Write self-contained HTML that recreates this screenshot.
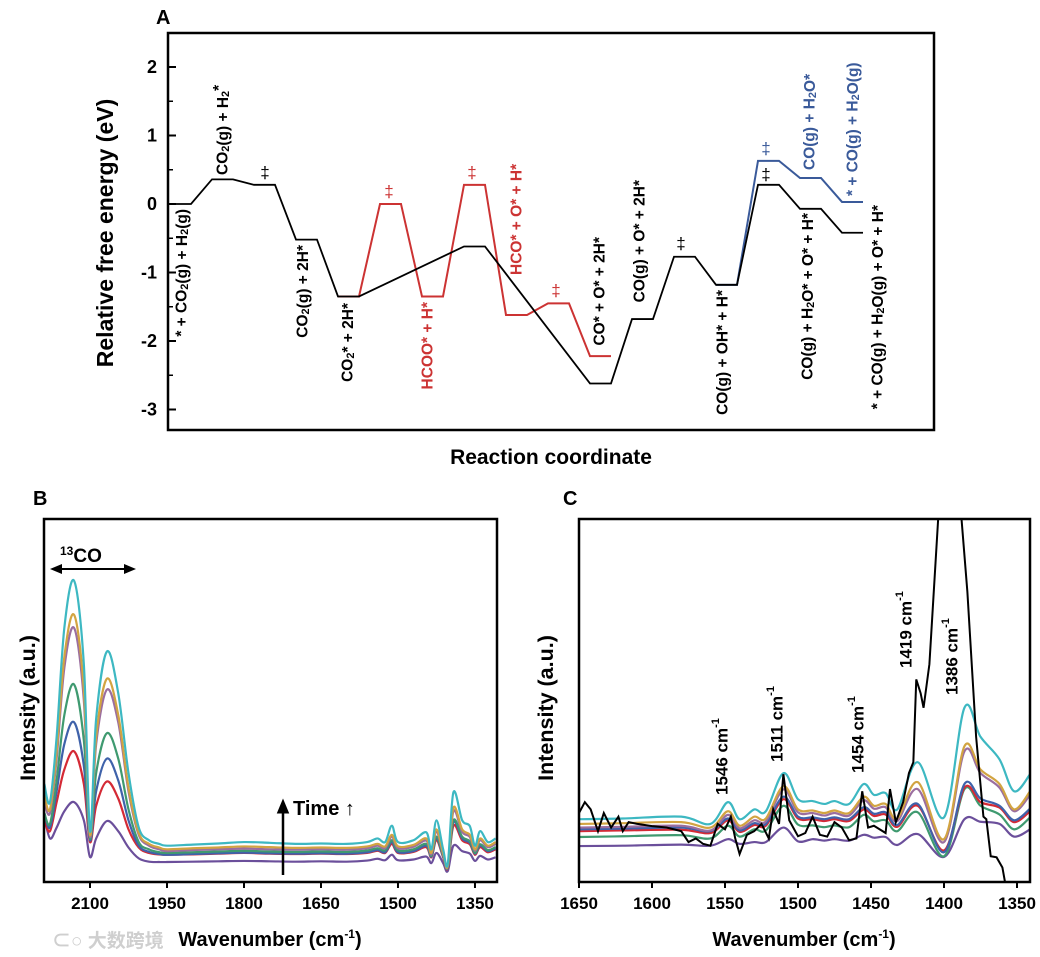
<!DOCTYPE html>
<html><head><meta charset="utf-8"><style>
html,body{margin:0;padding:0;background:#fff;}
svg{display:block;font-family:"Liberation Sans","Noto Sans CJK SC",sans-serif;font-weight:bold;}
</style></head><body>
<svg id="fig" width="1040" height="957" viewBox="0 0 1040 957" xmlns="http://www.w3.org/2000/svg">
<g id="panelA">
<text x="156" y="24" font-size="20">A</text>
<rect x="168" y="33" width="766" height="397" fill="none" stroke="#000" stroke-width="2.5"/>
<text transform="translate(113,233) rotate(-90)" text-anchor="middle" font-size="23">Relative free energy (eV)</text>
<text x="551" y="464" text-anchor="middle" font-size="21">Reaction coordinate</text>
<g id="axA"></g>
<g id="pathsA"></g>
<g font-size="15.5">
<text transform="translate(182,209) rotate(-90)" text-anchor="end" dominant-baseline="central">* + CO<tspan font-size="11" dy="3">2</tspan><tspan dy="-3">(g) + H</tspan><tspan font-size="11" dy="3">2</tspan><tspan dy="-3">(g)</tspan></text>
<text transform="translate(223,175) rotate(-90)" dominant-baseline="central">CO<tspan font-size="11" dy="3">2</tspan><tspan dy="-3">(g) + H</tspan><tspan font-size="11" dy="3">2</tspan><tspan dy="-7">*</tspan></text>
<text transform="translate(303,245) rotate(-90)" text-anchor="end" dominant-baseline="central">CO<tspan font-size="11" dy="3">2</tspan><tspan dy="-3">(g) + 2H*</tspan></text>
<text transform="translate(348,303) rotate(-90)" text-anchor="end" dominant-baseline="central">CO<tspan font-size="11" dy="3">2</tspan><tspan dy="-3">* + 2H*</tspan></text>
<text transform="translate(428,302) rotate(-90)" text-anchor="end" dominant-baseline="central" fill="#cc3333">HCOO* + H*</text>
<text transform="translate(517,275) rotate(-90)" dominant-baseline="central" fill="#cc3333">HCO* + O* + H*</text>
<text transform="translate(600,237) rotate(-90)" text-anchor="end" dominant-baseline="central">CO* + O* + 2H*</text>
<text transform="translate(640,180) rotate(-90)" text-anchor="end" dominant-baseline="central">CO(g) + O* + 2H*</text>
<text transform="translate(723,290) rotate(-90)" text-anchor="end" dominant-baseline="central">CO(g) + OH* + H*</text>
<text transform="translate(810,170) rotate(-90)" dominant-baseline="central" fill="#3a5a9a">CO(g) + H<tspan font-size="11" dy="3">2</tspan><tspan dy="-3">O*</tspan></text>
<text transform="translate(853,196) rotate(-90)" dominant-baseline="central" fill="#3a5a9a">* + CO(g) + H<tspan font-size="11" dy="3">2</tspan><tspan dy="-3">O(g)</tspan></text>
<text transform="translate(808,213) rotate(-90)" text-anchor="end" dominant-baseline="central">CO(g) + H<tspan font-size="11" dy="3">2</tspan><tspan dy="-3">O* + O* + H*</tspan></text>
<text transform="translate(878,205) rotate(-90)" text-anchor="end" dominant-baseline="central">* + CO(g) + H<tspan font-size="11" dy="3">2</tspan><tspan dy="-3">O(g) + O* + H*</tspan></text>
</g>
<g font-size="17" font-weight="normal" text-anchor="middle">
<text x="265" y="178">‡</text>
<text x="389" y="197" fill="#cc3333">‡</text>
<text x="472" y="178" fill="#cc3333">‡</text>
<text x="556" y="296" fill="#cc3333">‡</text>
<text x="681" y="249">‡</text>
<text x="766" y="154" fill="#3a5a9a">‡</text>
<text x="766" y="180">‡</text>
</g>
</g>

<g id="panelB">
<text x="33" y="505" font-size="20">B</text>
<defs><clipPath id="clipB"><rect x="44" y="519" width="453" height="363"/></clipPath>
<clipPath id="clipC"><rect x="579" y="519" width="451" height="363"/></clipPath>
<marker id="ah" markerWidth="6" markerHeight="6" refX="3" refY="3" orient="auto-start-reverse" markerUnits="strokeWidth"><path d="M0,0.5 L6,3 L0,5.5 z" fill="#000"/></marker></defs>
<g id="seriesB" clip-path="url(#clipB)"></g>
<rect x="44" y="519" width="453" height="363" fill="none" stroke="#000" stroke-width="2.5"/>
<g id="axB"></g>
<text transform="translate(35,708) rotate(-90)" text-anchor="middle" font-size="21.5">Intensity (a.u.)</text>
<text x="270" y="946" text-anchor="middle" font-size="20">Wavenumber (cm<tspan font-size="12" dy="-8">-1</tspan><tspan dy="8">)</tspan></text>
<text x="52" y="947" font-size="19" fill="#cfcfcf">⊂○ 大数跨境</text>
<text x="60" y="562" font-size="19"><tspan font-size="12" dy="-7">13</tspan><tspan dy="7">CO</tspan></text>
<line x1="56" y1="569" x2="130" y2="569" stroke="#000" stroke-width="2" marker-start="url(#ah)" marker-end="url(#ah)"/>
<line x1="283" y1="875" x2="283" y2="806" stroke="#000" stroke-width="2.5" marker-end="url(#ah)"/>
<text x="293" y="815" font-size="20">Time <tspan font-weight="normal">↑</tspan></text>
</g>

<g id="panelC">
<text x="563" y="505" font-size="20">C</text>
<g id="seriesC" clip-path="url(#clipC)"></g>
<rect x="579" y="519" width="451" height="363" fill="none" stroke="#000" stroke-width="2.5"/>
<g id="axC"></g>
<text transform="translate(553,708) rotate(-90)" text-anchor="middle" font-size="21.5">Intensity (a.u.)</text>
<text x="804" y="946" text-anchor="middle" font-size="20">Wavenumber (cm<tspan font-size="12" dy="-8">-1</tspan><tspan dy="8">)</tspan></text>
<g font-size="17">
<text transform="translate(722,795) rotate(-90)" dominant-baseline="central">1546 cm<tspan font-size="11" dy="-6">-1</tspan></text>
<text transform="translate(777,762) rotate(-90)" dominant-baseline="central">1511 cm<tspan font-size="11" dy="-6">-1</tspan></text>
<text transform="translate(858,773) rotate(-90)" dominant-baseline="central">1454 cm<tspan font-size="11" dy="-6">-1</tspan></text>
<text transform="translate(906,668) rotate(-90)" dominant-baseline="central">1419 cm<tspan font-size="11" dy="-6">-1</tspan></text>
<text transform="translate(952,695) rotate(-90)" dominant-baseline="central">1386 cm<tspan font-size="11" dy="-6">-1</tspan></text>
</g>
</g>
</svg>
<script>
// ---------- Panel A data ----------
const blackIdx = [0,1,2,3,4,7,10,11,12,13,14,15,16];
const blackE = [0,0.36,0.28,-0.52,-1.35,-0.62,-2.62,-1.68,-0.77,-1.18,0.28,-0.07,-0.42];
const redIdx = [4,5,6,7,8,9,10];
const redE = [-1.35,0.0,-1.35,0.28,-1.62,-1.45,-2.22];
const blueIdx = [13,14,15,16];
const blueE = [-1.18,0.63,0.38,0.03];
const yTicksA = [-3,-2,-1,0,1,2];

// ---------- Panel B data ----------
const wavB = [2189,2178,2165,2150,2131,2112,2100,2088,2067,2045,2025,2005,1985,1965,1950,1900,1850,1800,1750,1700,1650,1600,1560,1540,1525,1512,1500,1470,1445,1435,1425,1412,1403,1392,1375,1360,1350,1340,1325,1310];
const bCyan  =[27,22,40,70,83,60,14,45,63.5,52,30,15,11.5,10.5,10,10.3,10.6,11,10.8,10.5,10.6,10.5,11,12,11,15.5,11,11.5,13.7,9,17,9,5,24.7,17,15.4,10,14,11,12];
const bGold  =[24,20,36,62,73.6,53,13,40,56,46,26,13.5,10.5,9.5,9,9.3,9.5,9.8,9.6,9.4,9.5,9.4,9.8,10.5,9.8,13,9.8,10.2,12,8,14.5,8,4.5,20.5,14.5,13,9,12,10,11];
const bMauve =[22,19,34,59,70,50,12.5,38,53,44,25,13,10,9,8.5,8.8,9,9.2,9,8.9,9,8.9,9.3,10,9.3,12.5,9.3,9.7,11.4,7.6,13.8,7.6,4.3,19.5,13.8,12.4,8.6,11.5,9.6,10.5];
const bGreen =[19,16,28,46,54.4,39,12,30,41,34,20,11,9,8.2,8,8.2,8.4,8.6,8.4,8.3,8.4,8.3,8.7,9.3,8.7,11.5,8.7,9,10.5,7.2,12.5,7.2,4,17,12.5,11.2,8,10.4,8.8,9.6];
const bBlue  =[19,15,25,38,44,32,11.5,25,34,28,17,10,8.3,7.7,7.5,7.7,7.9,8.1,7.9,7.8,7.9,7.8,8.2,8.8,8.2,11,8.2,8.5,10,7,12,7,4,16.5,12,10.8,7.8,10,8.5,9.3];
const bRed   =[17,14,22,31,36,27,11,21,27.7,23,14.5,9.5,8,7.6,7.5,7.6,7.8,8,7.8,7.7,7.8,7.7,8,8.6,8,10.5,8,8.3,9.6,6.8,11.5,6.8,3.8,15.5,11.5,10.4,7.5,9.6,8.2,9];
const bPurple=[18,12,15,19.5,22,17,6.9,12,16.8,14,9.5,6.5,5.6,5.5,5.5,5.6,5.7,5.8,5.7,5.6,5.7,5.6,5.9,6.4,6,7.5,6,6.2,7,5.2,8,5.2,3,10,8.5,7.8,5.8,7.2,6.2,6.8];
const xTicksB = [2100,1950,1800,1650,1500,1350];

// ---------- Panel C data ----------
const wavC = [1650,1620,1580,1560,1548,1540,1530,1522,1510,1500,1490,1482,1475,1465,1455,1448,1440,1432,1418,1400,1386,1375,1362,1352,1341];
const cCyan  =[17.3,17.5,18,16,22,17.3,20,19.5,30,22.8,22.3,21.5,22.3,21.5,27,24,24.5,20,33,17.8,48,40,33.8,25,29.7];
const cGold  =[16,16.2,16.5,15,19.5,15.5,18,17.5,26.4,20,19.7,19,19.7,19,23.5,21,21.5,17.5,27.5,11.8,37.4,31,27,20,25];
const cMauve =[15,15.2,15.5,14.2,18.5,14.8,17,16.7,25.5,19.2,19,18.3,19,18.3,22.5,20.2,20.6,16.8,25.6,11,36,30,26,19.5,24];
const cRed   =[14,14.2,14.4,13.5,17,13.8,15.7,15.5,22.8,17.5,17.3,16.8,17.3,16.8,20,18.2,18.6,15.2,21,8.7,26,22,20.5,16.5,19.5];
const cBlue  =[14.5,14.7,15,14,17.5,14.2,16.2,16,23.5,18,17.8,17.3,17.8,17.3,20.6,18.8,19.2,15.7,21.5,8.2,27,23,21,17,20.2];
const cGreen =[12.4,12.6,12.9,12,15.5,12.5,14.5,14.2,21,15.8,15.6,15.1,15.6,15.1,18.5,16.7,17,14,19.2,7.1,25.6,21,18.6,14.5,17.8];
const cPurple=[9.9,10,10.3,10,11.8,10.5,11,11,15,11.2,11.8,11.4,11.8,11.4,13,12.2,12.4,10.2,13.2,6.9,17.3,16.6,16,12.5,14.5];
const wavCk = [1650,1646,1642,1637,1633,1628,1623,1620,1616,1610,1600,1590,1580,1575,1570,1565,1560,1555,1550,1546,1543,1540,1535,1530,1525,1520,1517,1513,1510,1506,1500,1495,1490,1485,1480,1475,1470,1465,1460,1456,1452,1448,1444,1440,1437,1433,1428,1424,1421,1419,1416,1414,1410,1404,1396,1388,1384,1378,1373,1371,1368,1364,1360,1356];
const cBlack= [19,22,20,14,19,15,18,14,16.5,16,15.4,15,14,11,12,10.5,10,16,14.5,18,12,7.7,13,14,16,12,20,16,29.7,17,12.6,13.5,18,13,12.5,16.5,15,11.5,12,25,15,15.5,14.5,13.5,25.6,16.5,22,30,33,55.8,52,48,60,100,150,100,80,40,18,17.3,7.1,6.8,4,-5];
const xTicksC = [1650,1600,1550,1500,1450,1400,1350];

const NS="http://www.w3.org/2000/svg";
function mk(tag, attrs, parent){const e=document.createElementNS(NS,tag);for(const k in attrs)e.setAttribute(k,attrs[k]);parent.appendChild(e);return e;}

// ---- Panel A ----
const yA = e => 204 - e*68.5;
const xA = i => Math.max(168, 170 + 42*i);
const axA=document.getElementById('axA');
yTicksA.forEach(t=>{
  const l=mk('line',{x1:168,x2:176,y1:yA(t),y2:yA(t),stroke:'#000','stroke-width':2},axA);
  
  
  const tx=mk('text',{x:157,y:yA(t)+6,'text-anchor':'end','font-size':18},axA);
  tx.textContent=t;
  
  
  if(t<2){const m=mk('line',{x1:168,x2:173,y1:yA(t+0.5),y2:yA(t+0.5),stroke:'#000','stroke-width':1.5},axA);
    
    }
});
function levelPath(idx, en){
  let d='';
  idx.forEach((i,k)=>{const x0=xA(i), x1=170+42*i+21, y=yA(en[k]);
    d += (k===0?'M':'L')+x0+','+y+' L'+x1+','+y+' ';});
  return d;
}
const pA=document.getElementById('pathsA');
const pr=mk('path',{d:levelPath(redIdx,redE),fill:'none',stroke:'#cc3333','stroke-width':2},pA);


const pb=mk('path',{d:levelPath(blueIdx,blueE),fill:'none',stroke:'#3a5a9a','stroke-width':2},pA);


const pk=mk('path',{d:levelPath(blackIdx,blackE),fill:'none',stroke:'#000','stroke-width':1.8},pA);



// ---- Spectra helpers ----
const yS = v => 882 - v*3.63;
function smooth(pts){
  let d='M'+pts[0][0]+','+pts[0][1];
  for(let i=0;i<pts.length-1;i++){
    const p0=pts[Math.max(0,i-1)],p1=pts[i],p2=pts[i+1],p3=pts[Math.min(pts.length-1,i+2)];
    const c1=[p1[0]+(p2[0]-p0[0])/6,p1[1]+(p2[1]-p0[1])/6];
    const c2=[p2[0]-(p3[0]-p1[0])/6,p2[1]-(p3[1]-p1[1])/6];
    d+=' C'+c1[0]+','+c1[1]+' '+c2[0]+','+c2[1]+' '+p2[0]+','+p2[1];
  }
  return d;
}
const colors={cyan:'#3db8c2',gold:'#d2a441',mauve:'#9b6e9f',green:'#3f9a70',blue:'#3f62aa',red:'#d42a35',purple:'#6b4f9b'};

// ---- Panel B ----
const xB = w => 90 + (2100-w)*0.5133;
const gB=document.getElementById('seriesB');
[['purple',bPurple],['red',bRed],['blue',bBlue],['green',bGreen],['mauve',bMauve],['gold',bGold],['cyan',bCyan]].forEach(([c,arr])=>{
  const p=mk('path',{d:smooth(wavB.map((w,i)=>[xB(w),yS(arr[i])])),fill:'none',stroke:colors[c],'stroke-width':2.2},gB);
  
  
});
const axB=document.getElementById('axB');
xTicksB.forEach(t=>{
  const l=mk('line',{x1:xB(t),x2:xB(t),y1:882,y2:888,stroke:'#000','stroke-width':2},axB);
  
  
  const tx=mk('text',{x:xB(t),y:909,'text-anchor':'middle','font-size':17},axB);
  tx.textContent=t;
  
  
});

// ---- Panel C ----
const xC = w => 579 + (1650-w)*1.46;
const gC=document.getElementById('seriesC');
[['purple',cPurple],['green',cGreen],['red',cRed],['blue',cBlue],['mauve',cMauve],['gold',cGold],['cyan',cCyan]].forEach(([c,arr])=>{
  const p=mk('path',{d:smooth(wavC.map((w,i)=>[xC(w),yS(arr[i])])),fill:'none',stroke:colors[c],'stroke-width':2.2},gC);
  
  
});
const bl=mk('polyline',{points:wavCk.map((w,i)=>xC(w)+','+yS(cBlack[i])).join(' '),fill:'none',stroke:'#000','stroke-width':2},gC);


const axC=document.getElementById('axC');
xTicksC.forEach(t=>{
  const l=mk('line',{x1:xC(t),x2:xC(t),y1:882,y2:888,stroke:'#000','stroke-width':2},axC);
  
  
  const tx=mk('text',{x:xC(t),y:909,'text-anchor':'middle','font-size':17},axC);
  tx.textContent=t;
  
  
});
</script>
</body></html>
